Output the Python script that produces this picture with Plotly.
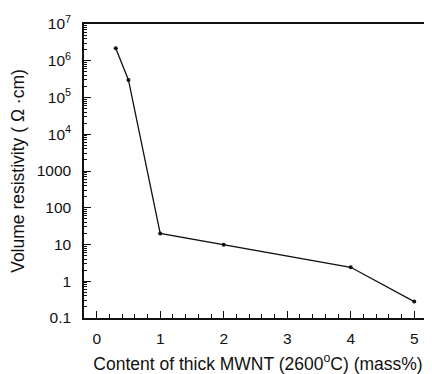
import plotly.graph_objects as go

content = [0.3, 0.5, 1, 2, 4, 5]
resistivity = [2.2e6, 3.0e5, 20, 9.8, 2.4, 0.28]

x_tickvals = [0, 1, 2, 3, 4, 5]
y_tickvals = [1e7, 1e6, 1e5, 1e4, 1000, 100, 10, 1, 0.1]
y_ticktext = ["10<sup>7</sup>", "10<sup>6</sup>", "10<sup>5</sup>", "10<sup>4</sup>",
              "1000", "100", "10", "1", "0.1"]

y_minor = [m * 10 ** e for e in range(-1, 7) for m in range(2, 10)]
x_minor = [i / 5 for i in range(0, 27) if i % 5 != 0]

fig = go.Figure()
fig.add_trace(go.Scatter(
    x=content, y=resistivity, mode="lines+markers",
    line=dict(color="#111", width=1.3),
    marker=dict(color="#111", size=4),
    showlegend=False,
))

font = dict(family="Liberation Sans, Arial, sans-serif", size=15.5, color="#111")
fig.update_layout(
    width=424, height=366,
    margin=dict(l=76, r=0, t=16, b=56),
    paper_bgcolor="white", plot_bgcolor="white",
    font=font,
    xaxis=dict(
        range=[-0.2, 5.28], tickvals=x_tickvals, ticks="inside", ticklen=7,
        tickwidth=1.2, tickcolor="#111", showline=True, linecolor="#111",
        linewidth=1.5, mirror=True, showgrid=False, zeroline=False,
        automargin=False, ticklabelstandoff=6,
        minor=dict(tickvals=x_minor, ticks="inside", ticklen=4, tickcolor="#111", tickwidth=1),
        title=dict(text="Content of thick MWNT (2600<sup>o</sup>C) (mass%)", standoff=11,
                   font=dict(size=17.5)),
    ),
    yaxis=dict(
        type="log", range=[-1, 7], tickvals=y_tickvals, ticktext=y_ticktext,
        ticks="inside", ticklen=7, tickwidth=1.2, tickcolor="#111",
        showline=True, linecolor="#111", linewidth=1.5, showgrid=False,
        zeroline=False, automargin=False, ticklabelstandoff=8,
        minor=dict(tickvals=y_minor, ticks="inside", ticklen=3, tickcolor="#111", tickwidth=1),
        title=dict(text="Volume resistivity ( Ω ·cm)", standoff=12, font=dict(size=17.5)),
    ),
)

fig.write_html("out.html")
